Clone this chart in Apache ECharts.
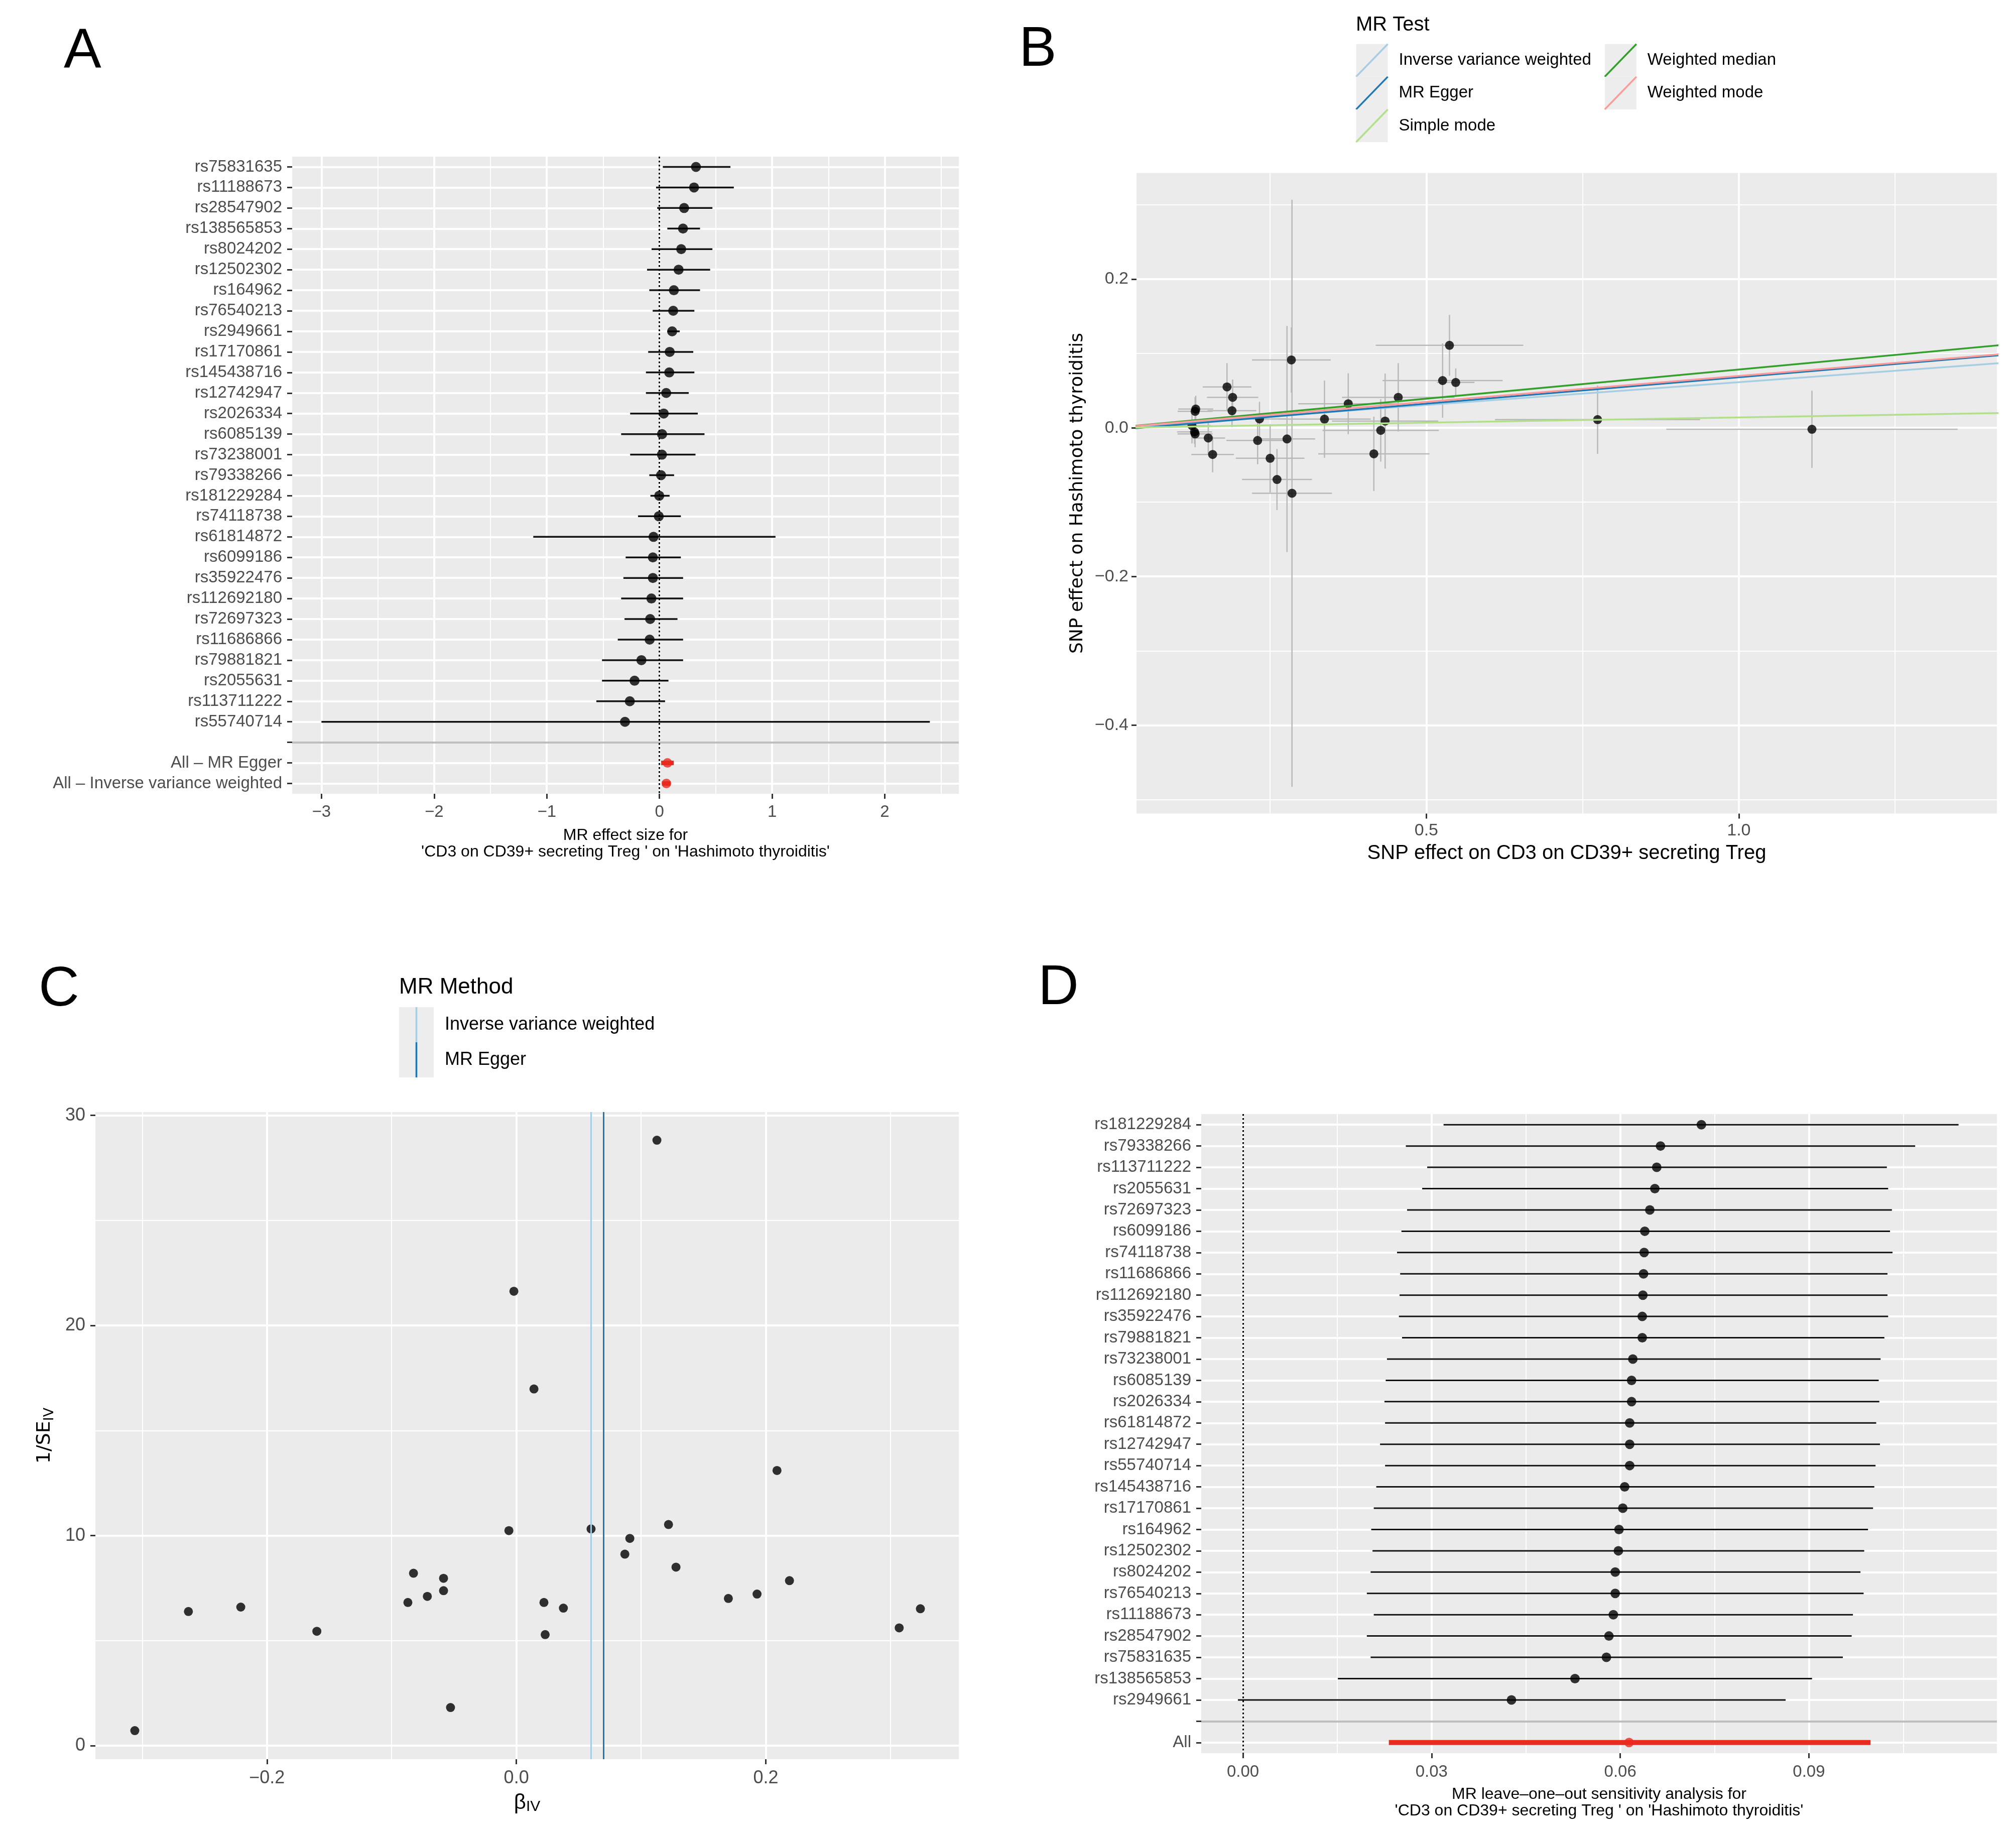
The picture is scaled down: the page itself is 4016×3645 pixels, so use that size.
<!DOCTYPE html>
<html>
<head>
<meta charset="utf-8">
<title>MR plots: CD3 on CD39+ secreting Treg on Hashimoto thyroiditis</title>
<script src="https://cdn.jsdelivr.net/npm/echarts@6.0.0/dist/echarts.min.js"></script>
<style>
  html, body { margin: 0; padding: 0; background: #ffffff; }
  #main { width: 4016px; height: 3645px; }
</style>
</head>
<body>
<div id="main"></div>
<script>
// ---------- data ----------

// A / C : single SNP Wald ratios, ordered as in the forest plot (top to bottom)
var snpNames = ['rs75831635', 'rs11188673', 'rs28547902', 'rs138565853', 'rs8024202', 'rs12502302',
  'rs164962', 'rs76540213', 'rs2949661', 'rs17170861', 'rs145438716', 'rs12742947', 'rs2026334',
  'rs6085139', 'rs73238001', 'rs79338266', 'rs181229284', 'rs74118738', 'rs61814872', 'rs6099186',
  'rs35922476', 'rs112692180', 'rs72697323', 'rs11686866', 'rs79881821', 'rs2055631',
  'rs113711222', 'rs55740714'];
var waldBeta = [0.324, 0.307, 0.219, 0.209, 0.193, 0.170, 0.128, 0.122, 0.1127, 0.091, 0.087, 0.0599,
  0.0377, 0.0231, 0.0221, 0.0141, -0.002, -0.006, -0.0528, -0.0584, -0.0584, -0.0714, -0.0825,
  -0.087, -0.160, -0.221, -0.263, -0.306];
var waldLo = [0.03, -0.03, -0.02, 0.07, -0.07, -0.11, -0.09, -0.06, 0.07, -0.10, -0.12, -0.12, -0.26,
  -0.34, -0.26, -0.09, -0.08, -0.19, -1.12, -0.30, -0.32, -0.34, -0.31, -0.37, -0.51, -0.51, -0.56, -3.0];
var waldHi = [0.63, 0.66, 0.47, 0.36, 0.47, 0.45, 0.36, 0.31, 0.18, 0.30, 0.31, 0.26, 0.34, 0.40, 0.32,
  0.13, 0.09, 0.19, 1.03, 0.19, 0.21, 0.21, 0.16, 0.21, 0.21, 0.08, 0.05, 2.40];
var waldInvSE = [6.52, 5.61, 7.86, 13.10, 7.22, 7.01, 8.50, 10.53, 28.82, 9.87, 9.12, 10.32, 6.55,
  5.29, 6.82, 16.98, 21.63, 10.24, 1.82, 7.97, 7.38, 7.11, 8.21, 6.82, 5.45, 6.60, 6.39, 0.72];

var summaryNames = ['All \u2013 MR Egger', 'All \u2013 Inverse variance weighted'];
var summaryBeta = [0.071, 0.0614];
var summaryLo = [0.015, 0.0232];
var summaryHi = [0.127, 0.0998];

// B : SNP effects on exposure (x) and outcome (y), same SNP order as above
var snpBx = [0.284, 0.181, 0.190, 0.537, 0.131, 0.130, 0.189, 0.526, 0.547, 0.455, 0.375, 0.233, 0.337,
  0.125, 0.434, 0.774, 1.117, 0.427, 0.277, 0.129, 0.130, 0.230, 0.416, 0.151, 0.250, 0.158, 0.261, 0.285];
var snpBy = [0.0913, 0.055, 0.041, 0.111, 0.0252, 0.0222, 0.023, 0.0636, 0.061, 0.041, 0.0324, 0.012,
  0.0117, 0.003, 0.0091, 0.011, -0.002, -0.0034, -0.015, -0.0055, -0.0082, -0.017, -0.035, -0.0137,
  -0.041, -0.0358, -0.0695, -0.088];
var snpSeX = [0.063, 0.039, 0.041, 0.118, 0.028, 0.028, 0.039, 0.096, 0.030, 0.090, 0.080, 0.045, 0.074,
  0.030, 0.085, 0.164, 0.233, 0.093, 0.045, 0.028, 0.028, 0.050, 0.089, 0.027, 0.055, 0.034, 0.056, 0.064];
var snpSeY = [0.044, 0.032, 0.024, 0.041, 0.018, 0.019, 0.022, 0.050, 0.019, 0.046, 0.041, 0.023, 0.052,
  0.024, 0.064, 0.046, 0.052, 0.042, 0.152, 0.016, 0.018, 0.032, 0.050, 0.022, 0.046, 0.024, 0.041, 0.395];

var mrMethods = ['Inverse variance weighted', 'MR Egger', 'Simple mode', 'Weighted median', 'Weighted mode'];
var mrSlopes = [0.0614, 0.071, 0.014, 0.0785, 0.0699];
var mrIntercepts = [0, -0.003, 0, 0, 0];
var mrColors = ['#A6CEE3', '#1F78B4', '#B2DF8A', '#33A02C', '#FB9A99'];

// D : leave-one-out
var looNames = ['rs181229284', 'rs79338266', 'rs113711222', 'rs2055631', 'rs72697323', 'rs6099186',
  'rs74118738', 'rs11686866', 'rs112692180', 'rs35922476', 'rs79881821', 'rs73238001', 'rs6085139',
  'rs2026334', 'rs61814872', 'rs12742947', 'rs55740714', 'rs145438716', 'rs17170861', 'rs164962',
  'rs12502302', 'rs8024202', 'rs76540213', 'rs11188673', 'rs28547902', 'rs75831635', 'rs138565853',
  'rs2949661'];
var looEst = [0.0729, 0.0664, 0.0658, 0.0655, 0.0647, 0.0639, 0.0638, 0.0637, 0.0636, 0.0635, 0.0635,
  0.0620, 0.0618, 0.0618, 0.0615, 0.0615, 0.0615, 0.0607, 0.0604, 0.0598, 0.0597, 0.0592, 0.0592,
  0.0589, 0.0582, 0.0578, 0.0528, 0.0427];
var looLo = [0.0319, 0.0259, 0.0293, 0.0285, 0.0261, 0.0252, 0.0245, 0.0250, 0.0249, 0.0248, 0.0253,
  0.0229, 0.0227, 0.0225, 0.0226, 0.0218, 0.0226, 0.0212, 0.0208, 0.0204, 0.0206, 0.0203, 0.0197,
  0.0208, 0.0197, 0.0203, 0.0151, -0.0008];
var looHi = [0.1138, 0.1069, 0.1024, 0.1026, 0.1032, 0.1029, 0.1033, 0.1025, 0.1025, 0.1026, 0.1020,
  0.1014, 0.1011, 0.1012, 0.1007, 0.1013, 0.1006, 0.1004, 0.1002, 0.0994, 0.0988, 0.0982, 0.0987,
  0.0970, 0.0968, 0.0954, 0.0905, 0.0863];
var looAll = { name: 'All', est: 0.0614, lo: 0.0232, hi: 0.0998 };

// tick labels
var ticksA = [-3, -2, -1, 0, 1, 2];
var ticksBx = [0.5, 1.0];
var ticksBy = [-0.4, -0.2, 0, 0.2];
var ticksCx = [-0.2, 0, 0.2];
var ticksCy = [0, 10, 20, 30];
var ticksD = [0, 0.03, 0.06, 0.09];

// ---------- helpers ----------
var FONT = '"Liberation Sans", Arial, Helvetica, sans-serif';
var WIDE = '"DejaVu Sans", Verdana, sans-serif';
var RED = '#EA2B1F';
var BG = '#EBEBEB';

function minus(s) { return String(s).replace('-', '\u2212'); }

function valAxis(grid, min, max, step, ticks, fmt, size, margin) {
  return {
    type: 'value', gridIndex: grid, min: min, max: max,
    minInterval: step, maxInterval: step,
    axisLine: { show: false, onZero: false },
    axisTick: { show: true, length: 10, customValues: ticks, lineStyle: { color: '#333333', width: 3 } },
    axisLabel: { color: '#4D4D4D', fontSize: size, fontFamily: FONT, margin: margin,
      customValues: ticks, formatter: fmt },
    splitLine: { show: true, lineStyle: { color: '#FFFFFF', width: 4 } },
    minorTick: { show: false, splitNumber: 2 },
    minorSplitLine: { show: true, lineStyle: { color: '#FFFFFF', width: 2 } }
  };
}

function catAxis(grid, cats) {
  return {
    type: 'category', gridIndex: grid, data: cats, inverse: true, boundaryGap: true,
    axisLine: { show: false, onZero: false },
    axisTick: { show: true, alignWithLabel: true, interval: 0, length: 10, lineStyle: { color: '#333333', width: 3 } },
    axisLabel: { interval: 0, color: '#4D4D4D', fontSize: 33, fontFamily: FONT, margin: 20 },
    splitLine: { show: true, interval: 0, alignWithLabel: true, lineStyle: { color: '#FFFFFF', width: 4 } }
  };
}

function hBar(color, width) {
  return function (params, api) {
    var row = api.value(2);
    var a = api.coord([api.value(0), row]);
    var b = api.coord([api.value(1), row]);
    return { type: 'line', shape: { x1: a[0], y1: a[1], x2: b[0], y2: b[1] },
      style: { stroke: color, lineWidth: width } };
  };
}

function crossBars(params, api) {
  var x = api.value(0), y = api.value(1), sx = api.value(2), sy = api.value(3);
  var h1 = api.coord([x - sx, y]), h2 = api.coord([x + sx, y]);
  var v1 = api.coord([x, y - sy]), v2 = api.coord([x, y + sy]);
  var st = { stroke: '#B8B8B8', lineWidth: 2.5 };
  return { type: 'group', children: [
    { type: 'line', shape: { x1: h1[0], y1: h1[1], x2: h2[0], y2: h2[1] }, style: st },
    { type: 'line', shape: { x1: v1[0], y1: v1[1], x2: v2[0], y2: v2[1] }, style: st }
  ] };
}

function refLines(blankRow) {
  return {
    silent: true, symbol: ['none', 'none'], animation: false, label: { show: false },
    data: [
      { yAxis: blankRow, lineStyle: { color: '#BEBEBE', width: 4, type: 'solid' } },
      { xAxis: 0, lineStyle: { color: '#000000', width: 3, type: [3.5, 4.5] } }
    ]
  };
}

// ---------- panel A ----------
var catsA = snpNames.concat([''], summaryNames);
var blankA = snpNames.length;
var barsA = snpNames.map(function (n, i) { return [waldLo[i], waldHi[i], i]; });
var dotsA = waldBeta.map(function (b, i) { return [b, i]; });
var sumBarsA = summaryBeta.map(function (b, i) { return [summaryLo[i], summaryHi[i], blankA + 1 + i]; });
var sumDotsA = summaryBeta.map(function (b, i) { return [b, blankA + 1 + i]; });

// ---------- panel B ----------
var pointsB = snpBx.map(function (x, i) { return [x, snpBy[i], snpSeX[i], snpSeY[i]]; });
var lineSeriesB = mrMethods.map(function (m, i) {
  return {
    name: m, type: 'line', xAxisIndex: 1, yAxisIndex: 1, showSymbol: false, clip: true, z: 5 + i,
    lineStyle: { color: mrColors[i], width: 3.5 },
    data: [[0, mrIntercepts[i]], [1.5, mrIntercepts[i] + mrSlopes[i] * 1.5]]
  };
});

// ---------- panel C ----------
var pointsC = waldBeta.map(function (b, i) { return [b, waldInvSE[i]]; });

// ---------- panel D ----------
var catsD = looNames.concat(['', looAll.name]);
var blankD = looNames.length;
var barsD = looNames.map(function (n, i) { return [looLo[i], looHi[i], i]; });
var dotsD = looEst.map(function (e, i) { return [e, i]; });

// ---------- legends / panel letters ----------
function txt(t, x, y, size, fam, extra) {
  var s = { text: t, fontSize: size, fontFamily: fam || FONT, fill: '#000000', align: 'left', verticalAlign: 'middle' };
  return { type: 'text', x: x, y: y, style: Object.assign(s, extra || {}) };
}
var graphics = [
  txt('A', 127, 103, 112), txt('B', 2030, 100, 112), txt('C', 77, 1972, 112), txt('D', 2068, 1969, 112),
  txt('MR Test', 2701, 50, 40), txt('MR Method', 795, 1967, 44)
];
var legendB = [[0, 0], [0, 1], [0, 2], [1, 0], [1, 1]];
var colXB = [2701.5, 3196.8], rowYB = [87.7, 152.9, 218];
legendB.forEach(function (p, i) {
  var x = colXB[p[0]], y = rowYB[p[1]], w = 63, h = 65;
  graphics.push({ type: 'rect', shape: { x: x, y: y, width: w, height: h }, style: { fill: '#EDEDED' } });
  graphics.push({ type: 'line', shape: { x1: x, y1: y + h, x2: x + w, y2: y }, style: { stroke: mrColors[i], lineWidth: 3.5 } });
  graphics.push(txt(mrMethods[i], x + 85, y + h / 2, 33));
});
[0, 1].forEach(function (i) {
  var x = 795, y = 2006 + i * 70, w = 69, h = 70;
  graphics.push({ type: 'rect', shape: { x: x, y: y, width: w, height: h }, style: { fill: '#EDEDED' } });
  graphics.push({ type: 'line', shape: { x1: x + w / 2, y1: y, x2: x + w / 2, y2: y + h }, style: { stroke: mrColors[i], lineWidth: 3.5 } });
  graphics.push(txt(mrMethods[i], 886, y + h / 2, 36));
});

// ---------- chart ----------
var chart = echarts.init(document.getElementById('main'), null, { renderer: 'canvas', devicePixelRatio: 1 });

var gridBase = { show: true, backgroundColor: BG, borderWidth: 0, containLabel: false, outerBoundsMode: 'none' };
var option = {
  animation: false,
  backgroundColor: '#FFFFFF',
  textStyle: { fontFamily: FONT },
  grid: [
    Object.assign({ left: 582, top: 312, width: 1328, height: 1269 }, gridBase),
    Object.assign({ left: 2264, top: 344.5, width: 1714, height: 1276 }, gridBase),
    Object.assign({ left: 190, top: 2215, width: 1720, height: 1289 }, gridBase),
    Object.assign({ left: 2393, top: 2219, width: 1585, height: 1273 }, gridBase)
  ],
  xAxis: [
    Object.assign(valAxis(0, -3.26, 2.657, 1, ticksA, function (v) { return minus(v); }, 33, 20), {
      name: 'MR effect size for\n\'CD3 on CD39+ secreting Treg \' on \'Hashimoto thyroiditis\'',
      nameLocation: 'middle', nameGap: 67,
      nameTextStyle: { fontSize: 32, lineHeight: 33, color: '#000000', fontFamily: FONT }
    }),
    Object.assign(valAxis(1, 0.0362, 1.413, 0.5, ticksBx, function (v) { return v.toFixed(1); }, 34, 17), {
      name: 'SNP effect on CD3 on CD39+ secreting Treg',
      nameLocation: 'middle', nameGap: 59,
      nameTextStyle: { fontSize: 40, lineHeight: 40, color: '#000000', fontFamily: FONT }
    }),
    Object.assign(valAxis(2, -0.3376, 0.3548, 0.1, ticksCx, function (v) { return minus(v.toFixed(1)); }, 36, 20), {
      minInterval: 0.2, maxInterval: 0.2,
      name: '{m|\u03b2}{s|IV}', nameLocation: 'middle', nameGap: 66,
      nameTextStyle: { color: '#000000', rich: {
        m: { fontSize: 42, lineHeight: 44, fontFamily: FONT, color: '#000000', verticalAlign: 'top' },
        s: { fontSize: 30, lineHeight: 30, fontFamily: FONT, color: '#000000', verticalAlign: 'bottom', padding: [18, 0, 0, 0] }
      } }
    }),
    Object.assign(valAxis(3, -0.00663, 0.1199, 0.03, ticksD, function (v) { return v.toFixed(2); }, 33, 21), {
      name: 'MR leave\u2013one\u2013out sensitivity analysis for\n\'CD3 on CD39+ secreting Treg \' on \'Hashimoto thyroiditis\'',
      nameLocation: 'middle', nameGap: 66,
      nameTextStyle: { fontSize: 32, lineHeight: 33, color: '#000000', fontFamily: FONT }
    })
  ],
  yAxis: [
    catAxis(0, catsA),
    Object.assign(valAxis(1, -0.519, 0.3429, 0.2, ticksBy, function (v) { return minus(v.toFixed(1)); }, 34, 16), {
      name: 'SNP effect on Hashimoto thyroiditis', nameLocation: 'middle', nameGap: 97,
      nameTextStyle: { fontSize: 36, lineHeight: 40, color: '#000000', fontFamily: WIDE }
    }),
    Object.assign(valAxis(2, -0.64, 30.16, 10, ticksCy, function (v) { return String(v); }, 36, 20), {
      name: '{m|1/SE}{s|IV}', nameLocation: 'middle', nameGap: 78,
      nameTextStyle: { color: '#000000', rich: {
        m: { fontSize: 38, lineHeight: 42, fontFamily: WIDE, color: '#000000', verticalAlign: 'top' },
        s: { fontSize: 27, lineHeight: 27, fontFamily: WIDE, color: '#000000', verticalAlign: 'bottom', padding: [18, 0, 0, 0] }
      } }
    }),
    catAxis(3, catsD)
  ],
  graphic: graphics,
  series: [
    // A
    { type: 'custom', xAxisIndex: 0, yAxisIndex: 0, renderItem: hBar('#111111', 3.5), encode: { x: [0, 1], y: 2 }, data: barsA, z: 3 },
    { type: 'scatter', xAxisIndex: 0, yAxisIndex: 0, symbolSize: 20, itemStyle: { color: '#000000' }, data: dotsA, z: 4,
      markLine: refLines(blankA) },
    { type: 'custom', xAxisIndex: 0, yAxisIndex: 0, renderItem: hBar(RED, 9), encode: { x: [0, 1], y: 2 }, data: sumBarsA, z: 3 },
    { type: 'scatter', xAxisIndex: 0, yAxisIndex: 0, symbolSize: 19, itemStyle: { color: RED }, data: sumDotsA, z: 4 },
    // B
    { type: 'custom', xAxisIndex: 1, yAxisIndex: 1, renderItem: crossBars, encode: { x: 0, y: 1 }, data: pointsB, z: 2 },
    { type: 'scatter', xAxisIndex: 1, yAxisIndex: 1, symbolSize: 18, itemStyle: { color: '#000000' }, data: pointsB, z: 3 }
  ].concat(lineSeriesB, [
    // C
    { type: 'scatter', xAxisIndex: 2, yAxisIndex: 2, symbolSize: 18, itemStyle: { color: '#000000' }, data: pointsC, z: 4,
      markLine: { silent: true, symbol: ['none', 'none'], animation: false, label: { show: false },
        data: [
          { xAxis: mrSlopes[0], lineStyle: { color: mrColors[0], width: 3, type: 'solid' } },
          { xAxis: mrSlopes[1], lineStyle: { color: mrColors[1], width: 3, type: 'solid' } }
        ] } },
    // D
    { type: 'custom', xAxisIndex: 3, yAxisIndex: 3, renderItem: hBar('#111111', 3), encode: { x: [0, 1], y: 2 }, data: barsD, z: 3 },
    { type: 'scatter', xAxisIndex: 3, yAxisIndex: 3, symbolSize: 19, itemStyle: { color: '#000000' }, data: dotsD, z: 4,
      markLine: refLines(blankD) },
    { type: 'custom', xAxisIndex: 3, yAxisIndex: 3, renderItem: hBar(RED, 10), encode: { x: [0, 1], y: 2 },
      data: [[looAll.lo, looAll.hi, blankD + 1]], z: 3 },
    { type: 'scatter', xAxisIndex: 3, yAxisIndex: 3, symbolSize: 19, itemStyle: { color: RED },
      data: [[looAll.est, blankD + 1]], z: 4 }
  ])
};
chart.setOption(option);
</script>
</body>
</html>
